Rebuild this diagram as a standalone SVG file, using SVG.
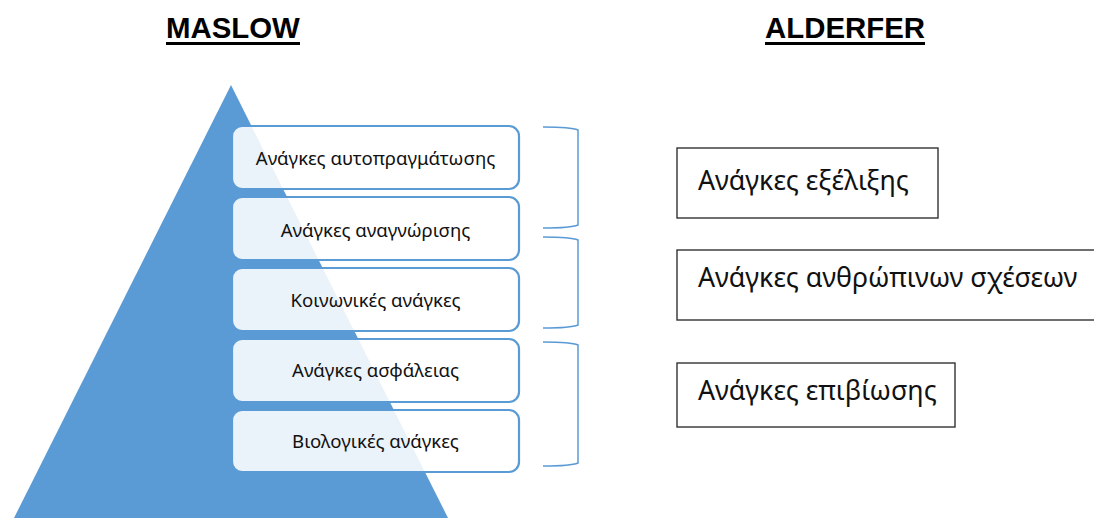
<svg xmlns="http://www.w3.org/2000/svg" width="1094" height="518" viewBox="0 0 1094 518">
<style>
.title{font-family:"Liberation Sans",Arial,sans-serif;font-weight:bold;font-size:29.4px;fill:#000}
.lvl{fill:#fff;fill-opacity:0.88;stroke:#5B9BD5;stroke-width:2.2}
.lt{font-family:"Noto Sans","Open Sans",sans-serif;font-size:18.6px;fill:#111;text-anchor:middle}
.br{fill:none;stroke:#5B9BD5;stroke-width:1.5}
.ab{fill:#fff;stroke:#333;stroke-width:1.4}
.at{font-family:"Noto Sans","Open Sans",sans-serif;font-size:26.8px;fill:#111}
</style>
<rect width="1094" height="518" fill="#fff"/>
<g id="titles">
<text class="title" x="166" y="38">MASLOW</text>
<rect x="166" y="42" width="134" height="3" fill="#000"/>
<text class="title" x="765" y="38">ALDERFER</text>
<rect x="765" y="42" width="160" height="3" fill="#000"/>
</g>
<g id="pyramid">
<polygon points="231,85 13,520 449,520" fill="#5B9BD5"/>
</g>
<g id="maslow-5"><rect class="lvl" x="232" y="410" width="287" height="62" rx="10"/><text class="lt" x="375.5" y="448">Βιολογικές ανάγκες</text></g>
<g id="maslow-4"><rect class="lvl" x="232" y="339" width="287" height="63" rx="10"/><text class="lt" x="375.5" y="377">Ανάγκες ασφάλειας</text></g>
<g id="maslow-3"><rect class="lvl" x="232" y="268" width="287" height="63" rx="10"/><text class="lt" x="375.5" y="306.5">Κοινωνικές ανάγκες</text></g>
<g id="maslow-2"><rect class="lvl" x="232" y="197" width="287" height="63" rx="10"/><text class="lt" x="375.5" y="236.5">Ανάγκες αναγνώρισης</text></g>
<g id="maslow-1"><rect class="lvl" x="232" y="126" width="287" height="63" rx="10"/><text class="lt" x="375.5" y="165">Ανάγκες αυτοπραγμάτωσης</text></g>
<g id="connectors">
<path class="br" d="M543,127 Q571,127 578,130 L578,225 Q571,228 543,228"/>
<path class="br" d="M543,237 Q571,237 578,240 L578,325 Q571,328 543,328"/>
<path class="br" d="M543,342 Q571,342 578,345 L578,463 Q571,466 543,466"/>
</g>
<g id="alderfer-growth"><rect class="ab" x="677" y="148" width="261" height="70"/><text class="at" x="698" y="190">Ανάγκες εξέλιξης</text></g>
<g id="alderfer-relatedness"><rect class="ab" x="677" y="250" width="425" height="70"/><text class="at" x="698" y="287">Ανάγκες ανθρώπινων σχέσεων</text></g>
<g id="alderfer-existence"><rect class="ab" x="677" y="363" width="278" height="64"/><text class="at" x="698" y="400">Ανάγκες επιβίωσης</text></g>
</svg>
